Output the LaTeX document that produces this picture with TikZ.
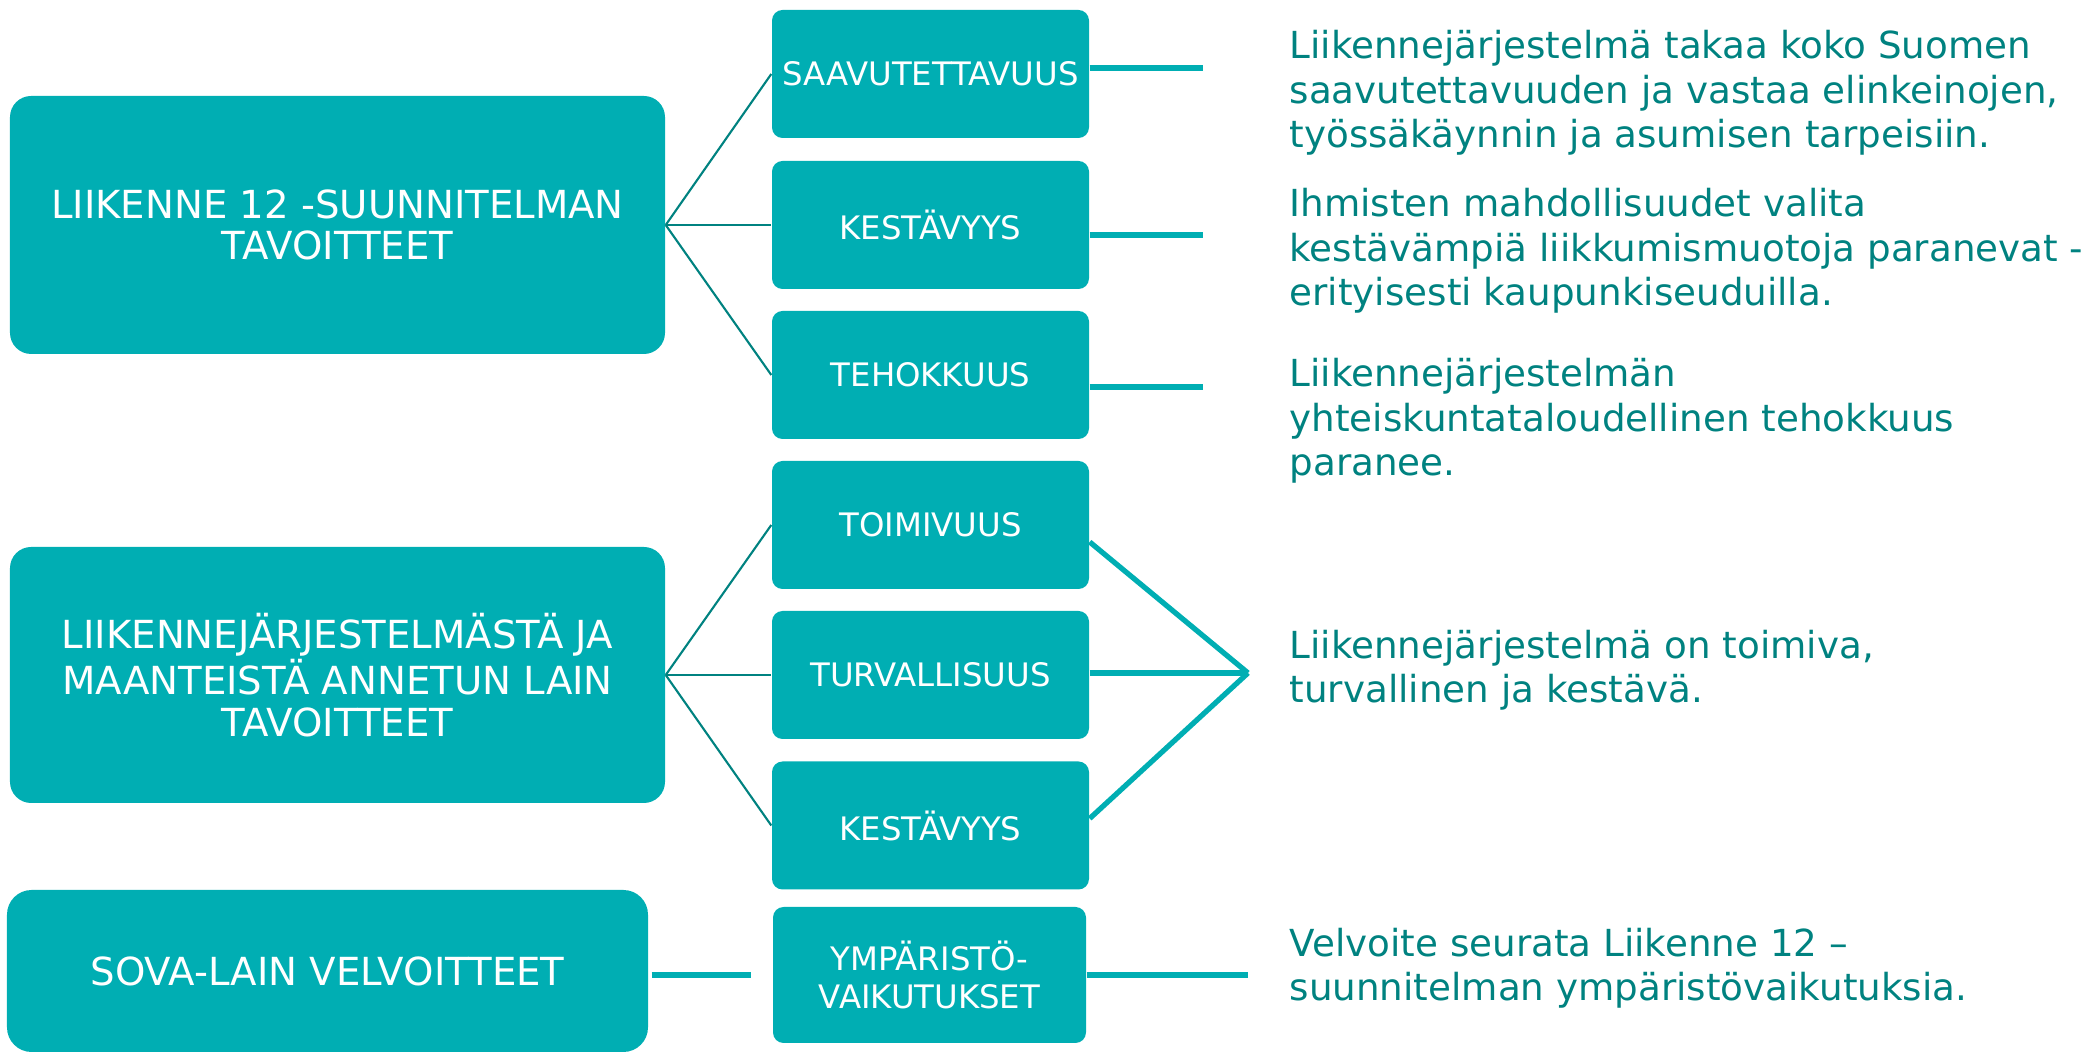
\documentclass[tikz,border=0pt]{standalone}
\usepackage{fontspec}
\setmainfont{DejaVu Sans}
\usetikzlibrary{positioning,calc}
\definecolor{lagoon}{RGB}{0,174,179}
\definecolor{deepteal}{RGB}{0,130,128}
\tikzset{
  goal/.style={fill=lagoon,text=white,rounded corners=6pt,inner sep=0pt,
    minimum width=65.5mm,minimum height=25.8mm,align=center,
    font=\fontsize{11}{11.8}\selectfont},
  aspect/.style={fill=lagoon,text=white,rounded corners=3pt,inner sep=0pt,
    minimum width=31.7mm,minimum height=12.8mm,align=center,
    font=\fontsize{9.2}{11}\selectfont},
  note/.style={anchor=base west,align=left,text=deepteal,inner sep=0pt,
    font=\fontsize{10.6}{12.7}\selectfont},
  link/.style={draw=deepteal,line width=0.6pt},
  flow/.style={draw=lagoon,line width=1.5pt},
}
\begin{document}
\begin{tikzpicture}
  \useasboundingbox (0,0) rectangle (20.95,10.54);
  % goals on the left
  \node[goal] (plan) at (3.375,8.29) {LIIKENNE 12 -SUUNNITELMAN\\TAVOITTEET};
  \node[goal,minimum height=25.6mm] (law) at (3.375,3.79) {LIIKENNEJÄRJESTELMÄSTÄ JA\\MAANTEISTÄ ANNETUN LAIN\\TAVOITTEET};
  \node[goal,minimum width=64.1mm,minimum height=16.2mm,rounded corners=7pt] (sova) at (3.275,0.83) {SOVA-LAIN VELVOITTEET};
  % aspects in the middle
  \node[aspect] (reach) at (9.305,9.80) {SAAVUTETTAVUUS};
  \node[aspect] (sust) at (9.305,8.29) {KESTÄVYYS};
  \node[aspect] (effic) at (9.305,6.79) {TEHOKKUUS};
  \node[aspect] (func) at (9.305,5.29) {TOIMIVUUS};
  \node[aspect] (safe) at (9.305,3.79) {TURVALLISUUS};
  \node[aspect] (sust2) at (9.305,2.285) {KESTÄVYYS};
  \node[aspect,minimum width=31.3mm,minimum height=13.6mm] (env) at (9.295,0.79) {YMPÄRISTÖ-\\VAIKUTUKSET};
  % descriptions on the right
  \node[note] (t1) at (12.89,9.06) {Liikennejärjestelmä takaa koko Suomen\\saavutettavuuden ja vastaa elinkeinojen,\\työssäkäynnin ja asumisen tarpeisiin.};
  \node[note] (t2) at (12.89,7.48) {Ihmisten mahdollisuudet valita\\kestävämpiä liikkumismuotoja paranevat -\\erityisesti kaupunkiseuduilla.};
  \node[note] (t3) at (12.89,5.78) {Liikennejärjestelmän\\yhteiskuntataloudellinen tehokkuus\\paranee.};
  \node[note] (t4) at (12.89,3.51) {Liikennejärjestelmä on toimiva,\\turvallinen ja kestävä.};
  \node[note] (t5) at (12.89,0.53) {Velvoite seurata Liikenne 12 –\\suunnitelman ympäristövaikutuksia.};
  % free ends
  \coordinate (e1) at (12.03,9.86);
  \coordinate (e2) at (12.03,8.19);
  \coordinate (e3) at (12.03,6.67);
  \coordinate (hub) at (12.48,3.81);
  \coordinate (e5) at (12.48,0.79);
  % fans from the goals
  \foreach \a in {reach,sust,effic} \draw[link] (plan.east) -- (\a.west);
  \foreach \a in {func,safe,sust2} \draw[link] (law.east) -- (\a.west);
  \draw[flow,shorten <=0.3mm,shorten >=2.1mm] (sova.east |- env.west) -- (env.west);
  % to the descriptions
  \draw[flow] (reach.east |- e1) -- (e1);
  \draw[flow] (sust.east |- e2) -- (e2);
  \draw[flow] (effic.east |- e3) -- (e3);
  \draw[flow] ($(func.east)+(0,-0.17)$) -- (hub);
  \draw[flow] (safe.east |- hub) -- (hub);
  \draw[flow] ($(sust2.east)+(0,0.07)$) -- (hub);
  \draw[flow] (env.east) -- (e5);
\end{tikzpicture}
\end{document}
